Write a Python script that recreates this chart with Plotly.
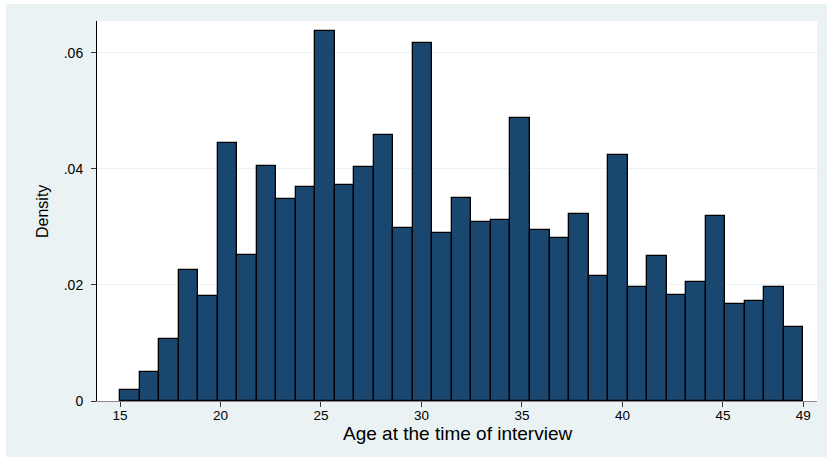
import plotly.graph_objects as go

# Density histogram of age at interview: 35 equal-width bins spanning ages 15-49
bin_start = 15
bin_end = 49
n_bins = 35
density = [
    0.00195, 0.00506, 0.01075, 0.02264, 0.01816, 0.04448, 0.02523, 0.04046,
    0.03477, 0.03695, 0.06374, 0.03718, 0.04034, 0.04586, 0.02989, 0.06172,
    0.02902, 0.03506, 0.03092, 0.03115, 0.04885, 0.02948, 0.02816, 0.03230,
    0.02155, 0.04247, 0.01963, 0.02500, 0.01833, 0.02057, 0.03195, 0.01667,
    0.01718, 0.01971, 0.01270,
]
x_ticks = [15, 20, 25, 30, 35, 40, 45, 49]
x_tick_labels = ["15", "20", "25", "30", "35", "40", "45", "49"]
y_ticks = [0, 0.02, 0.04, 0.06]
y_tick_labels = ["0", ".02", ".04", ".06"]

bin_width = (bin_end - bin_start) / n_bins
centers = [bin_start + (i + 0.5) * bin_width for i in range(n_bins)]

BG = "#EAF2F3"
BAR = "#1A476F"
FONT = "Liberation Sans, Arial, sans-serif"

W, H = 827, 457
L, R, T, B = 97, 10, 21, 56
pw, ph = W - L - R, H - T - B

fig = go.Figure(
    go.Bar(
        x=centers,
        y=density,
        width=bin_width,
        marker=dict(color=BAR, line=dict(color="black", width=1.3)),
        hoverinfo="x+y",
    )
)

fig.update_layout(
    width=W,
    height=H,
    margin=dict(l=L, r=R, t=T, b=B, pad=0),
    paper_bgcolor=BG,
    plot_bgcolor="white",
    showlegend=False,
    font=dict(family=FONT, color="black", size=14),
    bargap=0,
)

fig.update_xaxes(
    range=[13.855, 49.68],
    tickvals=x_ticks,
    ticktext=x_tick_labels,
    ticks="outside",
    ticklen=5,
    tickcolor="#333333",
    ticklabelstandoff=-3,
    showline=True,
    linecolor="#888888",
    linewidth=1,
    showgrid=False,
    zeroline=False,
    layer="below traces",
    tickfont=dict(size=13.5),
)
fig.update_yaxes(
    range=[0, 0.0655],
    tickvals=y_ticks,
    ticktext=y_tick_labels,
    ticks="outside",
    ticklen=5,
    tickcolor="#333333",
    ticklabelstandoff=5,
    showline=True,
    linecolor="black",
    linewidth=1,
    showgrid=True,
    gridcolor=BG,
    gridwidth=1,
    zeroline=False,
    tickfont=dict(size=14),
)

# axis titles
fig.add_annotation(
    text="Density", textangle=-90, showarrow=False,
    xref="paper", yref="paper",
    x=(42 - L) / pw, y=0.5, xanchor="center", yanchor="middle",
    font=dict(size=16),
)
fig.add_annotation(
    text="Age at the time of interview", showarrow=False,
    xref="paper", yref="paper",
    x=0.5, y=-(433 - (T + ph)) / ph, xanchor="center", yanchor="middle",
    font=dict(size=19),
)

# white strips along the top and left edges of the page
fig.add_shape(
    type="rect", xref="paper", yref="paper",
    x0=-L / pw, x1=(W - L) / pw, y0=1 + (T - 4) / ph, y1=1 + T / ph + 0.01,
    fillcolor="white", line=dict(width=0), layer="below",
)
fig.add_shape(
    type="rect", xref="paper", yref="paper",
    x0=-L / pw - 0.01, x1=-(L - 6) / pw, y0=-B / ph - 0.01, y1=1 + T / ph + 0.01,
    fillcolor="white", line=dict(width=0), layer="below",
)

fig.write_html("out.html")
